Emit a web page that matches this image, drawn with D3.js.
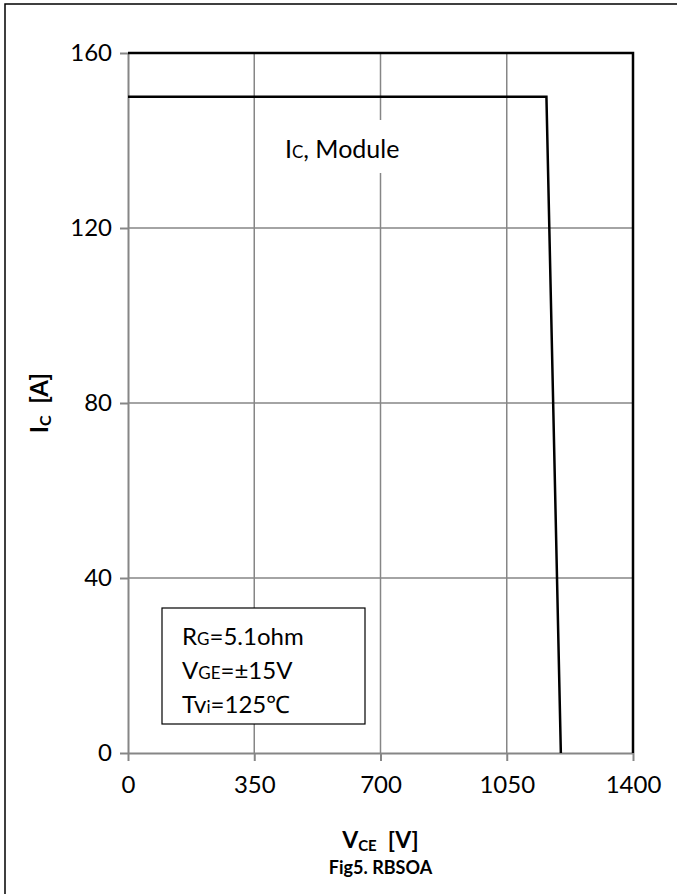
<!DOCTYPE html>
<html>
<head>
<meta charset="utf-8">
<script src="https://cdn.jsdelivr.net/npm/d3@7"></script>
<style>
  body { margin: 0; background: #fff; }
  svg { display: block; font-family: Lato, "Open Sans", sans-serif; }
</style>
</head>
<body>
<svg id="chart" width="677" height="894"></svg>
<script>
// RBSOA curve (I_C vs V_CE)
const rbsoaVce = [0, 1160, 1200];
const rbsoaIc = [150, 150, 0];
// module limit
const moduleVce = [0, 1400, 1400];
const moduleIc = [160, 160, 0];

const xTicks = [0, 350, 700, 1050, 1400];
const yTicks = [0, 40, 80, 120, 160];
const notes = ['R|G|=5.1ohm', 'V|GE|=±15V', 'Tv|i|=125℃'];

const width = 677, height = 894;
const margin = {top: 53, right: 44, bottom: 141, left: 128};

const svg = d3.select('#chart');

// outer frame (only left/top visible in the figure)
svg.append('rect')
  .attr('x', 5).attr('y', 4)
  .attr('width', 700).attr('height', 920)
  .attr('fill', 'none').attr('stroke', '#000').attr('stroke-width', 1.5);

const x = d3.scaleLinear()
  .domain([0, 1400])
  .range([margin.left, width - margin.right]);

const y = d3.scaleLinear()
  .domain([0, 160])
  .range([height - margin.bottom, margin.top]);

// grid
svg.append('g')
  .selectAll('line.vg').data(xTicks.slice(1, -1))
  .join('line')
  .attr('x1', d => x(d)).attr('x2', d => x(d))
  .attr('y1', y(0)).attr('y2', y(160))
  .attr('stroke', '#868686').attr('stroke-width', 1.5);

svg.append('g')
  .selectAll('line.hg').data(yTicks.slice(1, -1))
  .join('line')
  .attr('x1', x(0)).attr('x2', x(1400))
  .attr('y1', d => y(d)).attr('y2', d => y(d))
  .attr('stroke', '#868686').attr('stroke-width', 1.5);

// axes
const fmt = d3.format('d');
const xAxis = svg.append('g')
  .attr('transform', `translate(0,${y(0)})`)
  .call(d3.axisBottom(x).tickValues(xTicks).tickFormat(fmt)
    .tickSize(8).tickPadding(15).tickSizeOuter(0));

const yAxis = svg.append('g')
  .attr('transform', `translate(${x(0)},0)`)
  .call(d3.axisLeft(y).tickValues(yTicks).tickFormat(fmt)
    .tickSize(8).tickPadding(8).tickSizeOuter(0));

[xAxis, yAxis].forEach(g => {
  g.select('.domain').attr('stroke', '#868686').attr('stroke-width', 2);
  g.selectAll('.tick line').attr('stroke', '#868686').attr('stroke-width', 2);
  g.selectAll('.tick text')
    .attr('fill', '#000')
    .style('font-size', '24px')
    .style('font-family', 'Lato, "Open Sans", sans-serif');
});

// label "I_C, Module" with white background
const lbl = svg.append('g').attr('transform', `translate(${x(435)},${y(136)})`);
lbl.append('rect')
  .attr('x', -10).attr('y', -38).attr('width', 140).attr('height', 53)
  .attr('fill', '#fff');
const lt = lbl.append('text').style('font-size', '25px');
lt.append('tspan').text('I');
lt.append('tspan').text('C').style('font-size', '17px');
lt.append('tspan').text(', Module');

// series
const line = d3.line().x(d => x(d[0])).y(d => y(d[1]));

svg.append('path')
  .datum(d3.zip(moduleVce, moduleIc))
  .attr('d', line)
  .attr('fill', 'none').attr('stroke', '#000').attr('stroke-width', 2.5);

svg.append('path')
  .datum(d3.zip(rbsoaVce, rbsoaIc))
  .attr('d', line)
  .attr('fill', 'none').attr('stroke', '#000').attr('stroke-width', 2.5);

// conditions box
const box = svg.append('g').attr('transform', 'translate(162,608)');
box.append('rect')
  .attr('width', 203).attr('height', 116)
  .attr('fill', '#fff').attr('stroke', '#000').attr('stroke-width', 1.2);
notes.forEach((n, i) => {
  const parts = n.split('|');
  const t = box.append('text')
    .attr('x', 20).attr('y', 37 + i * 34)
    .style('font-size', '24px');
  parts.forEach((p, j) => {
    t.append('tspan').text(p).style('font-size', j === 1 ? '17px' : null);
  });
});

// axis titles
const xt = svg.append('text')
  .attr('x', x(700)).attr('y', 848)
  .attr('text-anchor', 'middle')
  .style('font-size', '23px').style('font-weight', 'bold');
xt.append('tspan').text('V');
xt.append('tspan').text('CE').style('font-size', '15px').attr('dy', 3);
xt.append('tspan').text('  [V]').attr('dy', -3).style('white-space', 'pre');

svg.append('text')
  .attr('x', x(700)).attr('y', 874)
  .attr('text-anchor', 'middle')
  .style('font-size', '18px').style('font-weight', 'bold')
  .text('Fig5. RBSOA');

const yt = svg.append('text')
  .attr('transform', `translate(48,${y(80)}) rotate(-90)`)
  .attr('text-anchor', 'middle')
  .style('font-size', '24px').style('font-weight', 'bold');
yt.append('tspan').text('I');
yt.append('tspan').text('C').style('font-size', '16px').attr('dy', 3);
yt.append('tspan').text('  [A]').attr('dy', -3).style('white-space', 'pre');
</script>
</body>
</html>
